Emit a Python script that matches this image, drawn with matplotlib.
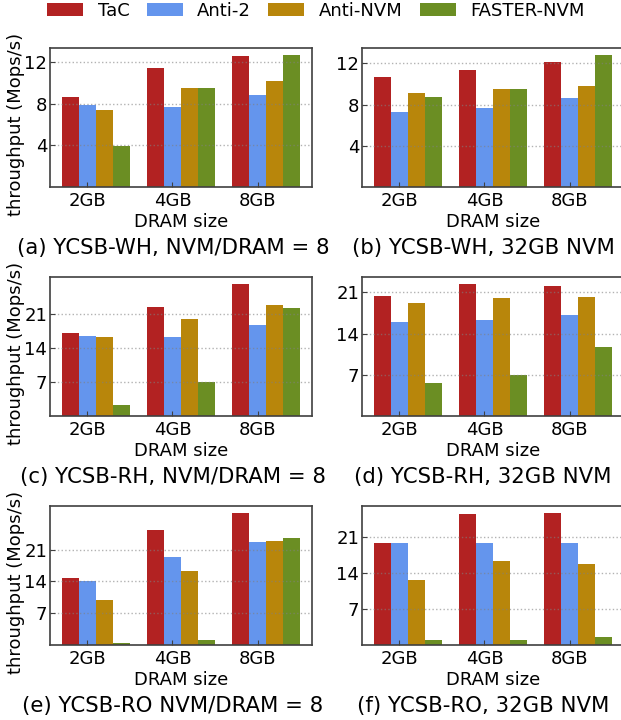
import numpy as np
import matplotlib
matplotlib.use("Agg")
import matplotlib.pyplot as plt

# ==========================================
# Dati (Mops/s)
# ==========================================
dram_sizes = ["2GB", "4GB", "8GB"]
systems = ["TaC", "Anti-2", "Anti-NVM", "FASTER-NVM"]
colors = ["#B22222", "#6495ED", "#B8860B", "#6B8E23"]

# (a) YCSB-WH, NVM/DRAM = 8
wh_ratio_tac = [8.66, 11.45, 12.61]
wh_ratio_anti2 = [7.89, 7.70, 8.85]
wh_ratio_antinvm = [7.41, 9.53, 10.20]
wh_ratio_faster = [3.98, 9.53, 12.70]

# (b) YCSB-WH, 32GB NVM
wh_fixed_tac = [10.70, 11.38, 12.16]
wh_fixed_anti2 = [7.30, 7.69, 8.66]
wh_fixed_antinvm = [9.15, 9.54, 9.83]
wh_fixed_faster = [8.76, 9.54, 12.84]

# (c) YCSB-RH, NVM/DRAM = 8
rh_ratio_tac = [17.16, 22.51, 27.25]
rh_ratio_anti2 = [16.54, 16.33, 18.81]
rh_ratio_antinvm = [16.33, 20.04, 22.92]
rh_ratio_faster = [2.20, 7.00, 22.31]

# (d) YCSB-RH, 32GB NVM
rh_fixed_tac = [20.43, 22.47, 22.13]
rh_fixed_anti2 = [16.02, 16.36, 17.20]
rh_fixed_antinvm = [19.24, 20.09, 20.26]
rh_fixed_faster = [5.66, 6.96, 11.77]

# (e) YCSB-RO NVM/DRAM = 8
ro_ratio_tac = [14.83, 25.40, 29.15]
ro_ratio_anti2 = [14.02, 19.46, 22.76]
ro_ratio_antinvm = [9.99, 16.37, 22.98]
ro_ratio_faster = [0.51, 1.17, 23.64]

# (f) YCSB-RO, 32GB NVM
ro_fixed_tac = [19.70, 25.45, 25.65]
ro_fixed_anti2 = [19.70, 19.70, 19.70]
ro_fixed_antinvm = [12.66, 16.34, 15.76]
ro_fixed_faster = [1.03, 1.03, 1.49]

panels = [
    ("(a) YCSB-WH, NVM/DRAM = 8", [wh_ratio_tac, wh_ratio_anti2, wh_ratio_antinvm, wh_ratio_faster], [4, 8, 12]),
    ("(b) YCSB-WH, 32GB NVM", [wh_fixed_tac, wh_fixed_anti2, wh_fixed_antinvm, wh_fixed_faster], [4, 8, 12]),
    ("(c) YCSB-RH, NVM/DRAM = 8", [rh_ratio_tac, rh_ratio_anti2, rh_ratio_antinvm, rh_ratio_faster], [7, 14, 21]),
    ("(d) YCSB-RH, 32GB NVM", [rh_fixed_tac, rh_fixed_anti2, rh_fixed_antinvm, rh_fixed_faster], [7, 14, 21]),
    ("(e) YCSB-RO NVM/DRAM = 8", [ro_ratio_tac, ro_ratio_anti2, ro_ratio_antinvm, ro_ratio_faster], [7, 14, 21]),
    ("(f) YCSB-RO, 32GB NVM", [ro_fixed_tac, ro_fixed_anti2, ro_fixed_antinvm, ro_fixed_faster], [7, 14, 21]),
]

# ==========================================
# Layout
# ==========================================
W, H = 621, 720
fig = plt.figure(figsize=(W / 100, H / 100), dpi=100)

col_left = [50, 362]
ax_width = 262
row_top = [48, 277, 506]
ax_height = 139

x = np.arange(len(dram_sizes))
bar_w = 0.2
offsets = [-1, 0, 1, 2]

for idx, (title, series, yticks) in enumerate(panels):
    r, c = divmod(idx, 2)
    left = col_left[c] / W
    bottom = 1 - (row_top[r] + ax_height) / H
    ax = fig.add_axes([left, bottom, ax_width / W, ax_height / H])

    for vals, off, col, name in zip(series, offsets, colors, systems):
        ax.bar(x + off * bar_w, vals, bar_w, color=col, label=name)

    ax.set_xticks(x)
    ax.set_xticklabels(dram_sizes)
    ax.set_yticks(yticks)
    ax.tick_params(direction="in", labelsize=13, length=3.5, color="0.25")
    ax.tick_params(axis="y", pad=2)
    ax.yaxis.grid(True, linestyle=":", color="gray", alpha=0.6, linewidth=1.0)
    for sp in ax.spines.values():
        sp.set_color("0.25")
        sp.set_linewidth(1.2)
    ax.set_xlabel("DRAM size", fontsize=13, labelpad=2)

    cx = (173 if c == 0 else 483) / W
    cy = 1 - (248 + 229 * r) / H
    fig.text(cx, cy, title, ha="center", va="center", fontsize=15.3)

    if c == 0:
        cy_lab = 1 - (124 + 229 * r) / H
        fig.text(16 / W, cy_lab, "throughput (Mops/s)", rotation=90,
                 ha="center", va="center", fontsize=13)
    if idx == 0:
        handles, labels = ax.get_legend_handles_labels()

fig.legend(handles, labels, loc="center", bbox_to_anchor=(316 / W, 1 - 11 / H),
           ncol=4, frameon=False, fontsize=13, columnspacing=0.95,
           handletextpad=0.8, handlelength=2.0, borderaxespad=0)

plt.savefig("out.png", dpi=100)
plt.close()
